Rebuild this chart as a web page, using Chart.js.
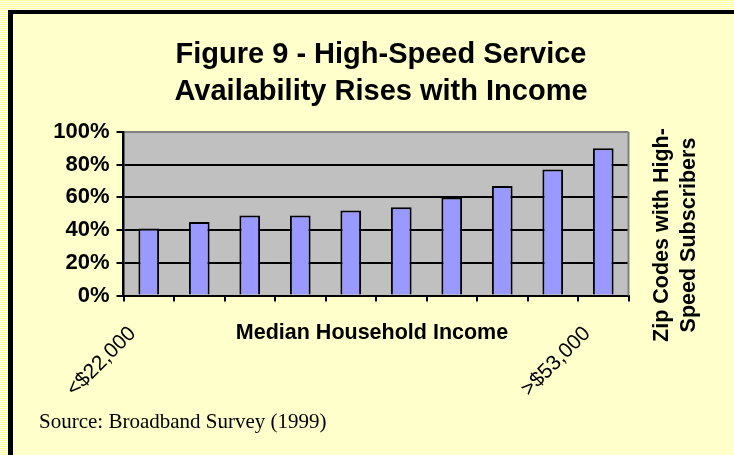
<!DOCTYPE html>
<html>
<head>
<meta charset="utf-8">
<script src="https://cdn.jsdelivr.net/npm/chart.js@4/dist/chart.umd.min.js"></script>
<style>
    html, body {
        margin: 0;
        padding: 0;
        width: 734px;
        height: 455px;
        overflow: hidden;
        background: repeating-linear-gradient(to bottom, #FFFF99 0px, #FFFF99 1px, #FFFFF0 1px, #FFFFF0 2px);
    }
    #marco {
        position: absolute;
        left: 8px;
        top: 10px;
        right: -10px;
        bottom: -10px;
        background: #FFFFCC;
        border-left: 5px solid #000;
        border-top: 4px solid #000;
    }
    #grafico {
        position: absolute;
        left: 0;
        top: 0;
    }
</style>
</head>
<body>
<div id="marco"></div>
<canvas id="grafico" width="734" height="455"></canvas>
<script>
    // Datos de la figura
    const categorias = ['<$22,000', '', '', '', '', '', '', '', '', '>$53,000'];
    const porcentajes = [41, 45, 49, 49, 52, 54, 60, 67, 77, 90];
    const marcasY = [0, 20, 40, 60, 80, 100];

    const tituloLineas = ['Figure 9 - High-Speed Service', 'Availability Rises with Income'];
    const tituloEjeX = 'Median Household Income';
    const tituloEjeY = ['Zip Codes with High-', 'Speed Subscribers'];
    const fuente = 'Source: Broadband Survey (1999)';

    const SANS = "'Liberation Sans', Arial, sans-serif";
    const SERIF = "'Liberation Serif', 'Times New Roman', serif";

    // Fondo gris del área de trazado y borde derecho
    const fondoArea = {
        id: 'fondoArea',
        beforeDraw(chart) {
            const { ctx, chartArea: a } = chart;
            ctx.save();
            ctx.fillStyle = '#C0C0C0';
            ctx.fillRect(a.left, a.top, a.right - a.left, a.bottom - a.top);
            ctx.restore();
        },
        afterDraw(chart) {
            const { ctx, chartArea: a } = chart;
            ctx.save();
            ctx.strokeStyle = '#808080';
            ctx.lineWidth = 2;
            ctx.beginPath();
            ctx.moveTo(a.right, a.bottom);
            ctx.lineTo(a.right, a.top);
            ctx.stroke();
            ctx.restore();
        }
    };

    // Títulos y nota de fuente
    const textos = {
        id: 'textos',
        afterDraw(chart) {
            const { ctx, chartArea: a } = chart;
            ctx.save();
            ctx.fillStyle = '#000';

            ctx.font = 'bold 29px ' + SANS;
            ctx.textAlign = 'center';
            ctx.textBaseline = 'alphabetic';
            ctx.fillText(tituloLineas[0], 381, 63);
            ctx.fillText(tituloLineas[1], 381, 100);

            ctx.font = 'bold 21.5px ' + SANS;
            ctx.fillText(tituloEjeX, (a.left + a.right) / 2 - 4, 339);

            ctx.save();
            ctx.translate(676, 235);
            ctx.rotate(-Math.PI / 2);
            ctx.font = 'bold 21.5px ' + SANS;
            ctx.textBaseline = 'middle';
            ctx.fillText(tituloEjeY[0], 0, -13.5);
            ctx.fillText(tituloEjeY[1], 0, 13.5);
            ctx.restore();

            ctx.font = '21px ' + SERIF;
            ctx.textAlign = 'left';
            ctx.fillText(fuente, 39, 428);
            ctx.restore();
        }
    };

    new Chart(document.getElementById('grafico'), {
        type: 'bar',
        data: {
            labels: categorias,
            datasets: [{
                data: porcentajes,
                backgroundColor: '#9999FF',
                borderColor: '#000',
                borderWidth: 2,
                barPercentage: 0.41,
                categoryPercentage: 1
            }]
        },
        options: {
            responsive: false,
            animation: false,
            layout: {
                padding: { left: 10, right: 105.5, top: 132, bottom: 0 }
            },
            plugins: {
                legend: { display: false },
                tooltip: { enabled: false },
                title: { display: false }
            },
            scales: {
                x: {
                    offset: true,
                    afterFit(scale) { scale.height = 159.5; },
                    grid: {
                        offset: true,
                        drawOnChartArea: false,
                        drawTicks: true,
                        tickLength: 6,
                        color: '#000',
                        lineWidth: 2
                    },
                    border: { display: true, color: '#000', width: 2 },
                    ticks: {
                        autoSkip: false,
                        maxRotation: 45,
                        minRotation: 45,
                        padding: 20,
                        labelOffset: -16,
                        color: '#000',
                        font: { family: SANS, size: 21 }
                    }
                },
                y: {
                    min: marcasY[0],
                    max: marcasY[marcasY.length - 1],
                    afterFit(scale) { scale.width = 113.5; },
                    afterBuildTicks(scale) {
                        scale.ticks = marcasY.map(v => ({ value: v }));
                    },
                    grid: {
                        color: ctx => ctx.tick && ctx.tick.value === 100 ? '#808080' : '#000',
                        tickColor: '#000',
                        lineWidth: 2,
                        tickLength: 7
                    },
                    border: { display: true, color: '#000', width: 2.5 },
                    ticks: {
                        padding: 7,
                        color: '#000',
                        font: { family: SANS, size: 22, weight: 'bold' },
                        callback: v => v + '%'
                    }
                }
            }
        },
        plugins: [fondoArea, textos]
    });
</script>
</body>
</html>
